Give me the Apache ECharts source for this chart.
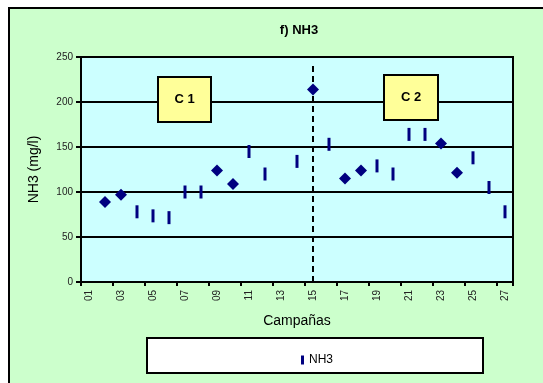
<!DOCTYPE html>
<html><head><meta charset="utf-8">
<script src="https://cdn.jsdelivr.net/npm/echarts@6/dist/echarts.min.js"></script>
<style>html,body{margin:0;padding:0;background:#fff}#c{width:543px;height:383px}</style>
</head><body><div id="c"></div>
<script>
const categories = ['01','02','03','04','05','06','07','08','09','10','11','12','13','14','15','16','17','18','19','20','21','22','23','24','25','26','27'];
const nh3Bars = [null,null,null,78,73.5,71.5,100,100,null,null,145,120,null,134,null,153,null,null,129,120,164,164,null,null,138,105,78];
const nh3Diamonds = [null,89,97,null,null,null,null,null,124,109,null,null,null,null,214,null,115,124,null,null,null,null,154,121.5,null,null,null];
const yTicks = {min:0, max:250, interval:50};
const dividerCategory = '15';
const dividerTop = 240;
const campaignLabels = ['C 1','C 2'];

const chart = echarts.init(document.getElementById('c'), null, {renderer:'canvas'});
const font = 'Arial, "Liberation Sans", sans-serif';
function box(x, y, w, h, label){
  return [
    {type:'rect', z:100, shape:{x:x,y:y,width:w,height:h}, style:{fill:'#ffff99', stroke:'#000', lineWidth:2}},
    {type:'text', z:101, style:{x:x+w/2, y:y+h/2, text:label, align:'center', verticalAlign:'middle', fill:'#000', font:'bold 13px ' + font}}
  ];
}
chart.setOption({
  backgroundColor:'#ffffff',
  animation:false,
  title:{text:'f) NH3', left:294, top:19, textAlign:'center',
    textStyle:{fontFamily:font, fontSize:13, fontWeight:'bold', color:'#000'}},
  grid:{left:81, right:30, top:57, bottom:101, show:true, backgroundColor:'#ccffff', borderColor:'#000', borderWidth:2},
  legend:{data:[{name:'NH3', icon:'rect'}], left:296, top:349, itemWidth:3, itemHeight:9, itemGap:5,
    textStyle:{fontFamily:font, fontSize:12, color:'#000'}},
  xAxis:{type:'category', data:categories, boundaryGap:true,
    name:'Campañas', nameLocation:'middle', nameGap:32,
    nameTextStyle:{fontFamily:font, fontSize:14, color:'#000'},
    axisLine:{lineStyle:{color:'#000', width:2}},
    axisTick:{show:true, length:4, lineStyle:{color:'#000', width:2}},
    axisLabel:{interval:1, rotate:90, fontFamily:font, fontSize:10, color:'#222', margin:8},
    splitLine:{show:false}},
  yAxis:{type:'value', min:yTicks.min, max:yTicks.max, interval:yTicks.interval,
    name:'NH3 (mg/l)', nameLocation:'middle', nameGap:40,
    nameTextStyle:{fontFamily:font, fontSize:14, color:'#000'},
    axisLine:{show:true, lineStyle:{color:'#000', width:2}},
    axisTick:{show:true, length:5, lineStyle:{color:'#000', width:2}},
    axisLabel:{fontFamily:font, fontSize:10, color:'#222', margin:8},
    splitLine:{show:true, lineStyle:{color:'#000', width:2}}},
  series:[
    {name:'NH3', type:'line', data:nh3Bars, connectNulls:false, showAllSymbol:true,
      lineStyle:{width:0, opacity:0}, symbol:'rect', symbolSize:[3,13],
      itemStyle:{color:'#000080'}, z:5,
      markLine:{silent:true, symbol:'none', label:{show:false},
        lineStyle:{color:'#000', width:2, type:[6,4]},
        data:[[{coord:[dividerCategory, yTicks.min]},{coord:[dividerCategory, dividerTop]}]]}},
    {name:'NH3 destacado', type:'line', data:nh3Diamonds, connectNulls:false, showAllSymbol:true,
      lineStyle:{width:0, opacity:0}, symbol:'diamond', symbolSize:12,
      itemStyle:{color:'#000080'}, z:6}
  ],
  graphic:[
    {type:'rect', z:-10, shape:{x:9, y:8, width:534, height:375},
      style:{fill:'#ccffcc'}},
    {type:'polyline', z:-9, shape:{points:[[9,383],[9,8],[543,8]]},
      style:{stroke:'#000', lineWidth:2, fill:null}},
    {type:'rect', z:-5, shape:{x:147, y:338, width:336, height:35},
      style:{fill:'#ffffff', stroke:'#000', lineWidth:2}}
  ].concat(box(158, 77, 53, 45, campaignLabels[0]), box(384, 75, 54, 45, campaignLabels[1]))
});
</script></body></html>
